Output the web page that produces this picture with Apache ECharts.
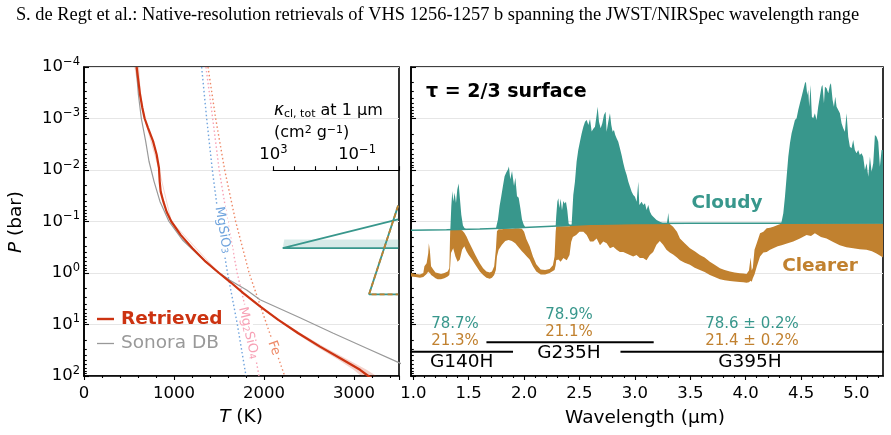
<!DOCTYPE html>
<html>
<head>
<meta charset="utf-8">
<script src="https://cdn.jsdelivr.net/npm/echarts@6/dist/echarts.min.js"></script>
<style>
  html, body { margin: 0; padding: 0; background: #fff; }
  #chart { width: 891px; height: 435px; }
</style>
</head>
<body>
<div id="chart"></div>
<script>
"use strict";

// ---- P-T profiles: [T (K), log10 P (bar)]
const retrieved = [
  [585, -4.0], [604, -3.73], [622, -3.47], [648, -3.21], [674, -3.0], [711, -2.82],
  [767, -2.56], [807, -2.30], [833, -2.04], [841, -1.78], [852, -1.58], [881, -1.39],
  [918, -1.19], [970, -1.0], [1074, -0.74], [1204, -0.48], [1352, -0.22], [1500, 0.0],
  [1635, 0.19], [1770, 0.39], [1956, 0.65], [2159, 0.91], [2381, 1.17], [2622, 1.43],
  [2881, 1.69], [3067, 1.88], [3159, 2.0], [3250, 2.1]
];
// [log10 P, T low, T high]
const retrievedBand = [
  [-4.0, 560, 612], [-3.7, 588, 622], [-3.4, 622, 640], [-3.0, 668, 680], [-2.0, 830, 840],
  [-1.0, 965, 975], [0.0, 1494, 1506], [0.65, 1946, 1966], [0.91, 2145, 2175],
  [1.17, 2355, 2410], [1.43, 2585, 2665], [1.69, 2830, 2940], [1.88, 2995, 3140],
  [2.0, 3080, 3250], [2.1, 3160, 3360]
];
const sonoraDB = [
  [580, -4.0], [604, -3.47], [637, -3.0], [685, -2.56], [722, -2.17], [778, -1.78],
  [844, -1.39], [944, -1.0], [1100, -0.63], [1289, -0.32], [1456, -0.06], [1622, 0.14],
  [1807, 0.33], [1956, 0.52], [2400, 0.87], [2770, 1.17], [3141, 1.46], [3511, 1.75], [3600, 1.82]
];
const condMgSiO3 = [[1307, -4], [1363, -3], [1426, -2], [1500, -1], [1595, 0], [1704, 1], [1800, 2]];
const condMg2SiO4 = [[1355, -4], [1430, -3], [1502, -2], [1597, -1], [1702, 0], [1837, 1], [1945, 2]];
const condFe = [[1378, -4], [1463, -3], [1563, -2], [1685, -1], [1835, 0], [2030, 1], [2230, 2]];

// ---- inset cloud opacity: [kappa (cm2/g), log10 P]
const kappaCloudy = [[1.1e-3, -1.05], [355, -0.49], [1.1e-3, -0.49]];
const kappaCloudyBand = [[300, -0.66], [1.0e-3, -0.66], [1.0e-3, -0.49], [355, -0.49]];
const kappaClear = [[1.1e-3, -1.32], [0.027, 0.41], [1.1e-3, 0.41]];

// ---- tau = 2/3 surfaces: [wavelength (um), log10 P]
const cloudDeck = [
  [0.979, -0.83], [1.30, -0.84], [1.60, -0.855], [2.00, -0.885], [2.30, -0.915],
  [2.60, -0.945], [3.00, -0.96], [3.50, -0.965], [4.30, -0.965], [5.24, -0.97]
];
const cloudyBands = [
  [[1.334, -0.84], [1.343, -1.30], [1.352, -1.59], [1.361, -1.39], [1.373, -1.56], [1.385, -1.36],
   [1.397, -1.62], [1.409, -1.74], [1.421, -1.43], [1.433, -1.13], [1.448, -0.92], [1.463, -0.87],
   [1.48, -0.85], [1.494, -0.845]],
  [[1.745, -0.855], [1.749, -0.90], [1.764, -1.04], [1.779, -1.30], [1.794, -1.49], [1.809, -1.69],
   [1.824, -1.88], [1.839, -1.95], [1.854, -2.01], [1.863, -2.07], [1.875, -1.82], [1.891, -1.98],
   [1.909, -1.69], [1.921, -1.85], [1.936, -1.49], [1.951, -1.46], [1.966, -1.26], [1.981, -1.04],
   [1.996, -0.94], [2.011, -0.89]],
  [[2.285, -0.915], [2.290, -1.10], [2.300, -1.385], [2.309, -1.45], [2.318, -1.26], [2.330, -1.44],
   [2.342, -1.22], [2.354, -1.40], [2.366, -1.35], [2.378, -1.385], [2.390, -1.22], [2.402, -0.96],
   [2.414, -0.93]],
  [[2.429, -0.93], [2.444, -1.514], [2.459, -1.773], [2.474, -2.162], [2.489, -2.388], [2.504, -2.550],
   [2.520, -2.712], [2.535, -2.841], [2.550, -2.938], [2.565, -2.971], [2.580, -2.873], [2.595, -2.990],
   [2.610, -2.75], [2.625, -2.80], [2.640, -2.841], [2.655, -3.068], [2.664, -3.229], [2.676, -2.938],
   [2.691, -2.809], [2.706, -2.906], [2.721, -3.068], [2.736, -3.132], [2.745, -2.744], [2.760, -2.938],
   [2.775, -3.100], [2.787, -2.873], [2.799, -2.744], [2.811, -2.776], [2.823, -2.679], [2.835, -2.615],
   [2.850, -2.550], [2.865, -2.420], [2.880, -2.291], [2.896, -2.129], [2.911, -2.000], [2.926, -1.903],
   [2.941, -1.773], [2.956, -1.676], [2.971, -1.579], [2.986, -1.514], [3.001, -1.482], [3.016, -1.385],
   [3.031, -1.773], [3.040, -1.320], [3.061, -1.385], [3.076, -1.320], [3.091, -1.353], [3.106, -1.223],
   [3.121, -1.320], [3.136, -1.191], [3.151, -1.126], [3.166, -1.094], [3.196, -1.029], [3.226, -0.997],
   [3.256, -0.965]],
  [[3.29, -0.965], [3.302, -1.17], [3.31, -0.965]],
  [[4.32, -0.965], [4.325, -1.0], [4.340, -1.159], [4.355, -1.482], [4.370, -1.871], [4.385, -2.259],
   [4.400, -2.518], [4.415, -2.712], [4.430, -2.841], [4.445, -2.971], [4.460, -3.003], [4.475, -3.165],
   [4.490, -3.294], [4.505, -3.424], [4.520, -3.553], [4.535, -3.683], [4.544, -3.715], [4.556, -3.456],
   [4.565, -3.553], [4.574, -3.230], [4.586, -3.650], [4.598, -3.036], [4.610, -3.003], [4.625, -3.100],
   [4.640, -2.971], [4.655, -3.230], [4.670, -3.424], [4.685, -3.618], [4.694, -3.650], [4.707, -3.294],
   [4.716, -3.618], [4.731, -3.586], [4.746, -3.489], [4.761, -3.650], [4.770, -3.683], [4.785, -3.359],
   [4.797, -3.230], [4.809, -3.424], [4.821, -3.230], [4.836, -3.165], [4.851, -3.100], [4.866, -2.906],
   [4.881, -2.809], [4.896, -2.744], [4.911, -3.100], [4.926, -2.647], [4.941, -2.453], [4.956, -2.421],
   [4.971, -2.583], [4.986, -2.388], [5.001, -2.324], [5.016, -2.388], [5.031, -2.291], [5.046, -2.324],
   [5.061, -2.259], [5.077, -2.000], [5.092, -2.130], [5.107, -1.871], [5.122, -2.259], [5.137, -1.968],
   [5.152, -2.130], [5.167, -2.680], [5.182, -2.647], [5.197, -2.550], [5.212, -2.065], [5.227, -2.388],
   [5.242, -2.388], [5.242, -0.965]]
];
// clearer column: [wavelength, log10 P top, log10 P bottom]
const clearer = [
  [0.979, 0.00, 0.07], [1.02, 0.02, 0.08], [1.06, 0.03, 0.09], [1.09, 0.00, 0.08], [1.10, -0.13, 0.06],
  [1.12, -0.19, 0.02], [1.135, -0.39, -0.03], [1.14, -0.58, -0.01], [1.15, -0.42, 0.00], [1.16, -0.13, 0.04],
  [1.18, -0.07, 0.07], [1.20, -0.01, 0.10], [1.22, 0.00, 0.12], [1.25, 0.02, 0.12], [1.28, 0.00, 0.10],
  [1.31, -0.03, 0.07], [1.325, -0.09, 0.04], [1.333, -0.83, -0.13],
  [1.34, -0.84, -0.39], [1.36, -0.84, -0.48], [1.38, -0.84, -0.32], [1.40, -0.84, -0.22], [1.42, -0.84, -0.26],
  [1.44, -0.83, -0.45], [1.46, -0.78, -0.52], [1.48, -0.71, -0.42],
  [1.50, -0.61, -0.35], [1.53, -0.48, -0.26], [1.56, -0.35, -0.16], [1.60, -0.19, -0.03], [1.63, -0.09, 0.04],
  [1.66, -0.03, 0.09], [1.69, -0.01, 0.11], [1.71, -0.03, 0.09], [1.73, -0.13, 0.04], [1.745, -0.45, -0.06],
  [1.755, -0.81, -0.32],
  [1.77, -0.85, -0.45], [1.80, -0.85, -0.55], [1.83, -0.86, -0.62], [1.86, -0.86, -0.64], [1.89, -0.86, -0.62],
  [1.92, -0.87, -0.58], [1.95, -0.87, -0.50], [1.98, -0.86, -0.42], [2.00, -0.80, -0.38], [2.02, -0.66, -0.33],
  [2.05, -0.52, -0.26], [2.08, -0.32, -0.13], [2.11, -0.17, -0.03], [2.15, -0.07, 0.03], [2.19, -0.06, 0.03],
  [2.23, -0.08, 0.00], [2.26, -0.15, -0.04], [2.275, -0.32, -0.06], [2.285, -0.80, -0.15],
  [2.29, -0.91, -0.25], [2.31, -0.91, -0.26], [2.33, -0.91, -0.22], [2.355, -0.91, -0.29], [2.385, -0.91, -0.25],
  [2.41, -0.91, -0.35], [2.425, -0.92, -0.60],
  [2.44, -0.93, -0.70], [2.47, -0.93, -0.74], [2.50, -0.94, -0.80], [2.535, -0.94, -0.80], [2.565, -0.95, -0.74],
  [2.595, -0.95, -0.61], [2.625, -0.95, -0.61], [2.655, -0.95, -0.67], [2.685, -0.95, -0.54], [2.715, -0.96, -0.61],
  [2.745, -0.96, -0.58], [2.775, -0.96, -0.48], [2.805, -0.96, -0.51], [2.835, -0.96, -0.45], [2.865, -0.96, -0.41],
  [2.895, -0.96, -0.41], [2.925, -0.96, -0.38], [2.955, -0.96, -0.35], [2.985, -0.96, -0.32], [3.015, -0.96, -0.35],
  [3.045, -0.96, -0.29], [3.075, -0.96, -0.29], [3.105, -0.96, -0.25], [3.135, -0.96, -0.35], [3.165, -0.96, -0.41],
  [3.195, -0.96, -0.55], [3.225, -0.96, -0.62], [3.255, -0.96, -0.55], [3.285, -0.96, -0.45], [3.315, -0.95, -0.40],
  [3.345, -0.90, -0.36], [3.38, -0.80, -0.30], [3.407, -0.67, -0.25], [3.45, -0.58, -0.20], [3.497, -0.48, -0.16],
  [3.54, -0.42, -0.10], [3.587, -0.35, -0.06], [3.63, -0.30, -0.02], [3.677, -0.22, 0.04], [3.72, -0.16, 0.08],
  [3.768, -0.09, 0.12], [3.81, -0.06, 0.14], [3.858, -0.03, 0.155], [3.90, -0.01, 0.165], [3.948, 0.006, 0.174],
  [3.98, 0.01, 0.18], [4.008, 0.02, 0.187], [4.03, -0.05, 0.18], [4.045, -0.30, 0.15], [4.055, -0.05, 0.17],
  [4.065, -0.10, 0.10], [4.08, -0.45, 0.03], [4.10, -0.58, -0.12], [4.13, -0.77, -0.32], [4.16, -0.80, -0.40],
  [4.19, -0.87, -0.41], [4.22, -0.88, -0.45], [4.25, -0.90, -0.48], [4.29, -0.93, -0.52], [4.324, -0.96, -0.54],
  [4.38, -0.965, -0.58], [4.43, -0.965, -0.61], [4.49, -0.965, -0.67], [4.55, -0.965, -0.74], [4.59, -0.965, -0.72],
  [4.625, -0.965, -0.77], [4.68, -0.965, -0.70], [4.73, -0.965, -0.67], [4.79, -0.965, -0.60], [4.85, -0.965, -0.54],
  [4.91, -0.965, -0.50], [4.971, -0.965, -0.48], [5.03, -0.965, -0.46], [5.091, -0.965, -0.45], [5.14, -0.965, -0.42],
  [5.181, -0.965, -0.38], [5.226, -0.965, -0.32], [5.24, -0.965, -0.30]
];

// NIRSpec gratings: [name, start, end] (um)
const gratings = [['G140H', 0.97, 1.90], ['G235H', 1.66, 3.17], ['G395H', 2.87, 5.27]];
const cloudyFrac = ['78.7%', '78.9%', '78.6 ± 0.2%'];
const clearerFrac = ['21.3%', '21.1%', '21.4 ± 0.2%'];

const lambdaTicks = [1.0, 1.5, 2.0, 2.5, 3.0, 3.5, 4.0, 4.5, 5.0];

const FONT = 'DejaVu Sans';
const RED = '#cc3311', GREY = '#999999', TEAL = '#38978c', ORANGE = '#c1812f';
const P = e => Math.pow(10, e);

// minor tick positions
const lambdaMinor = [];
for (let i = 10; i <= 52; i++) if (i % 5 !== 0) lambdaMinor.push(i / 10);
const logMinor = [];
for (let n = -4; n < 2; n++) for (let k = 2; k <= 9; k++) logMinor.push(n + Math.log10(k));

const supRich = {
  m: { fontSize: 16.5, fontFamily: FONT, color: '#000', lineHeight: 22 },
  e: { fontSize: 11.5, fontFamily: FONT, color: '#000', lineHeight: 12, verticalAlign: 'top' }
};
function pow10Label(v) {
  const e = Math.round(Math.log10(v));
  return '{m|10}{e|' + (e < 0 ? '\u2212' + (-e) : e) + '}';
}

const chart = echarts.init(document.getElementById('chart'), null, { renderer: 'canvas' });

function polySeries(xi, yi, polys, fill, z) {
  return {
    type: 'custom', xAxisIndex: xi, yAxisIndex: yi, z: z, clip: true, silent: true,
    data: polys.map((p, i) => [p[0][0], P(p[0][1]), i]),
    encode: { x: 0, y: 1 },
    renderItem: (params, api) => {
      const poly = polys[api.value(2)];
      return {
        type: 'polygon',
        shape: { points: poly.map(q => api.coord([q[0], P(q[1])])) },
        style: { fill: fill }
      };
    }
  };
}
function lineSeries(name, xi, yi, pts, color, width, type, z) {
  return {
    name: name, type: 'line', xAxisIndex: xi, yAxisIndex: yi, z: z,
    data: pts.map(p => [p[0], P(p[1])]), symbol: 'none', showSymbol: false,
    lineStyle: { color: color, width: width, type: type || 'solid' }, itemStyle: { color: color },
    silent: true, clip: true
  };
}

const bandPoly = retrievedBand.map(r => [r[1], r[0]])
  .concat(retrievedBand.slice().reverse().map(r => [r[2], r[0]]));
const clearerPoly = clearer.map(r => [r[0], r[1]])
  .concat(clearer.slice().reverse().map(r => [r[0], r[2]]));

const frame = { show: true, borderColor: '#000', borderWidth: 1.6, backgroundColor: 'transparent' };
const tickStyle = { color: '#000', width: 1.1 };
const blackAxis = { show: true, onZero: false, lineStyle: { color: '#000', width: 1.6 } };

const option = {
  animation: false,
  textStyle: { fontFamily: FONT },
  grid: [
    Object.assign({ left: 84, top: 67, width: 315, height: 309 }, frame),
    Object.assign({ left: 411, top: 67, width: 472, height: 309 }, frame),
    { left: 273.3, top: 170.7, width: 125.7, height: 205.3, show: false }
  ],
  xAxis: [
    { gridIndex: 0, type: 'value', min: 0, max: 3500, interval: 1000,
      axisLine: blackAxis,
      axisTick: { length: 4, lineStyle: tickStyle },
      minorTick: { show: true, splitNumber: 5, length: 2, lineStyle: tickStyle },
      axisLabel: { fontSize: 16.5, color: '#000', margin: 9, showMaxLabel: false, formatter: v => String(v) },
      splitLine: { show: false } },
    { gridIndex: 1, type: 'value', min: 0.979, max: 5.24,
      axisLine: blackAxis,
      axisTick: { length: 4, lineStyle: tickStyle, customValues: lambdaTicks },
      axisLabel: { fontSize: 16.5, color: '#000', margin: 9, customValues: lambdaTicks,
        formatter: v => v.toFixed(1) },
      splitLine: { show: false } },
    { gridIndex: 1, type: 'value', min: 0.979, max: 5.24, position: 'bottom',
      axisLine: { show: false, onZero: false },
      axisTick: { length: 2, lineStyle: tickStyle, customValues: lambdaMinor },
      axisLabel: { show: false }, splitLine: { show: false } },
    { gridIndex: 2, type: 'log', logBase: 10, min: 1e-3, max: 1e3, inverse: true, position: 'top',
      axisLine: { show: true, onZero: false, lineStyle: { color: '#000', width: 1.2 } },
      axisTick: { length: 4.5, lineStyle: tickStyle },
      axisLabel: { margin: 5, rich: supRich,
        formatter: v => (Math.abs(Math.log10(v) - 3) < 1e-6 || Math.abs(Math.log10(v) + 1) < 1e-6) ? pow10Label(v) : '' },
      splitLine: { show: false }, minorTick: { show: false } }
  ],
  yAxis: [
    { gridIndex: 0, type: 'log', logBase: 10, min: 1e-4, max: 1e2, inverse: true,
      axisLine: blackAxis,
      axisTick: { inside: true, length: 5, lineStyle: tickStyle },
      axisLabel: { formatter: pow10Label, rich: supRich, margin: 4 },
      splitLine: { show: true, lineStyle: { color: '#e6e6e6', width: 1.2 } },
      minorTick: { show: false } },
    { gridIndex: 0, type: 'value', min: -4, max: 2, inverse: true, position: 'left',
      axisLine: { show: false, onZero: false },
      axisTick: { inside: true, length: 2.8, lineStyle: tickStyle, customValues: logMinor },
      axisLabel: { show: false }, splitLine: { show: false } },
    { gridIndex: 1, type: 'log', logBase: 10, min: 1e-4, max: 1e2, inverse: true,
      axisLine: blackAxis,
      axisTick: { inside: true, length: 5, lineStyle: tickStyle },
      axisLabel: { show: false },
      splitLine: { show: true, lineStyle: { color: '#e6e6e6', width: 1.2 } },
      minorTick: { show: false } },
    { gridIndex: 1, type: 'value', min: -4, max: 2, inverse: true, position: 'left',
      axisLine: { show: false, onZero: false },
      axisTick: { inside: true, length: 2.8, lineStyle: tickStyle, customValues: logMinor },
      axisLabel: { show: false }, splitLine: { show: false } },
    { gridIndex: 2, type: 'log', logBase: 10, min: 1e-2, max: 1e2, inverse: true, show: false }
  ],
  series: [
    // left panel
    polySeries(0, 0, [bandPoly], 'rgba(204,51,17,0.22)', 2),
    lineSeries('MgSiO3', 0, 0, condMgSiO3, '#6fa3dd', 1.4, [1.5, 2.5], 3),
    lineSeries('Mg2SiO4', 0, 0, condMg2SiO4, '#f7a1b5', 1.4, [1.5, 2.5], 3),
    lineSeries('Fe', 0, 0, condFe, '#ee8866', 1.4, [1.5, 2.5], 3),
    lineSeries('Sonora DB', 0, 0, sonoraDB, GREY, 1.2, 'solid', 4),
    lineSeries('Retrieved', 0, 0, retrieved, RED, 2.2, 'solid', 5),
    // inset
    polySeries(3, 4, [kappaCloudyBand], 'rgba(56,151,140,0.2)', 3),
    lineSeries('kc', 3, 4, kappaCloudy, TEAL, 1.8, 'solid', 4),
    lineSeries('kcl', 3, 4, kappaClear, TEAL, 1.8, 'solid', 4),
    lineSeries('kcl2', 3, 4, kappaClear, ORANGE, 1.8, [5, 3], 5),
    // right panel
    polySeries(1, 2, [clearerPoly], ORANGE, 2),
    polySeries(1, 2, cloudyBands, TEAL, 3),
    lineSeries('deck', 1, 2, cloudDeck, TEAL, 1.5, 'solid', 4),
    lineSeries('g1', 1, 2, [[gratings[0][1], Math.log10(33.7)], [gratings[0][2], Math.log10(33.7)]], '#000', 2, 'solid', 6),
    lineSeries('g2', 1, 2, [[gratings[1][1], Math.log10(22.2)], [gratings[1][2], Math.log10(22.2)]], '#000', 2, 'solid', 6),
    lineSeries('g3', 1, 2, [[gratings[2][1], Math.log10(33.7)], [gratings[2][2], Math.log10(33.7)]], '#000', 2, 'solid', 6)
  ],
  graphic: []
};

function txt(x, y, text, opts) {
  const o = opts || {};
  return {
    type: 'text', x: x, y: y, z: 100, rotation: o.rotation || 0, silent: true,
    style: Object.assign({
      text: text, fill: o.color || '#000',
      font: (o.weight || 'normal') + ' ' + (o.size || 16) + 'px ' + (o.family || FONT),
      align: o.align || 'center', verticalAlign: 'middle',
      textAlign: o.align || 'center', textVerticalAlign: 'middle'
    }, o.extra || {})
  };
}
function seg(x1, x2, y, color, width) {
  return { type: 'line', z: 100, silent: true, shape: { x1: x1, y1: y, x2: x2, y2: y },
    style: { stroke: color, lineWidth: width } };
}
const subRich = (color, size) => ({
  n: { fontSize: size, fill: color, color: color, fontFamily: FONT },
  s: { fontSize: size * 0.7, fill: color, color: color, fontFamily: FONT, verticalAlign: 'bottom', lineHeight: size * 0.9 }
});

option.graphic = [
  txt(437.5, 15, 'S. de Regt et al.: Native-resolution retrievals of VHS 1256-1257 b spanning the JWST/NIRSpec wavelength range',
    { size: 18.4, family: 'Liberation Serif' }),
  // axis titles
  txt(16, 222, '{i|P} (bar)', { rotation: Math.PI / 2, size: 18.5,
    extra: { rich: { i: { fontStyle: 'italic', fontSize: 18.5, fontFamily: FONT, fill: '#000' } } } }),
  txt(241, 417, '{i|T} (K)', { size: 18.5,
    extra: { rich: { i: { fontStyle: 'italic', fontSize: 18.5, fontFamily: FONT, fill: '#000' } } } }),
  txt(645, 418, 'Wavelength (\u03bcm)', { size: 18.5 }),
  // legend
  seg(97, 114, 319, RED, 2.4),
  txt(121, 319, 'Retrieved', { align: 'left', size: 18.5, weight: 'bold', color: RED }),
  seg(97, 114, 343.5, GREY, 1.3),
  txt(121, 343.5, 'Sonora DB', { align: 'left', size: 18.5, color: GREY }),
  // inset title
  txt(274, 111, '{k|\u03ba}{s|cl, tot} at 1 \u03bcm', { align: 'left', size: 16,
    extra: { rich: { k: { fontSize: 17, fontStyle: 'italic', fontFamily: FONT, fill: '#000' },
      s: { fontSize: 11, fontFamily: FONT, fill: '#000', verticalAlign: 'bottom', lineHeight: 14 } } } }),
  txt(274, 133, '(cm{e|2} g{e|\u22121})', { align: 'left', size: 16,
    extra: { rich: { e: { fontSize: 11, fontFamily: FONT, fill: '#000', verticalAlign: 'top', lineHeight: 12 } } } }),
  // condensation labels
  txt(222.7, 230, '{n|MgSiO}{s|3}', { rotation: -80.6 * Math.PI / 180,
    extra: { rich: subRich('#6fa3dd', 13), backgroundColor: '#fff', padding: [0, 2] } }),
  txt(248.3, 333, '{n|Mg}{s|2}{n|SiO}{s|4}', { rotation: -76.7 * Math.PI / 180,
    extra: { rich: subRich('#f7a1b5', 13), backgroundColor: '#fff', padding: [0, 2] } }),
  txt(274, 348, 'Fe', { rotation: -70.7 * Math.PI / 180, size: 13, color: '#ee8866',
    extra: { backgroundColor: '#fff', padding: [0, 2] } }),
  // right panel labels
  txt(426, 92, '\u03c4 = 2/3 surface', { align: 'left', size: 19, weight: 'bold' }),
  txt(721, 203, 'Cloudy', { size: 18.5, weight: 'bold', color: TEAL,
    extra: { backgroundColor: 'rgba(255,255,255,0.6)', padding: [3, 2, 14, 14] } }),
  txt(820, 266, 'Clearer', { size: 18.5, weight: 'bold', color: ORANGE }),
  txt(455, 324, cloudyFrac[0], { size: 15, color: TEAL }),
  txt(455, 341.5, clearerFrac[0], { size: 15, color: ORANGE }),
  txt(569, 315, cloudyFrac[1], { size: 15, color: TEAL }),
  txt(569, 332, clearerFrac[1], { size: 15, color: ORANGE }),
  txt(752, 324, cloudyFrac[2], { size: 15, color: TEAL }),
  txt(752, 341.5, clearerFrac[2], { size: 15, color: ORANGE }),
  txt(461.7, 362.3, gratings[0][0], { size: 18.5 }),
  txt(569, 353.3, gratings[1][0], { size: 18.5 }),
  txt(750, 362.3, gratings[2][0], { size: 18.5 })
];

chart.setOption(option);
</script>
</body>
</html>
